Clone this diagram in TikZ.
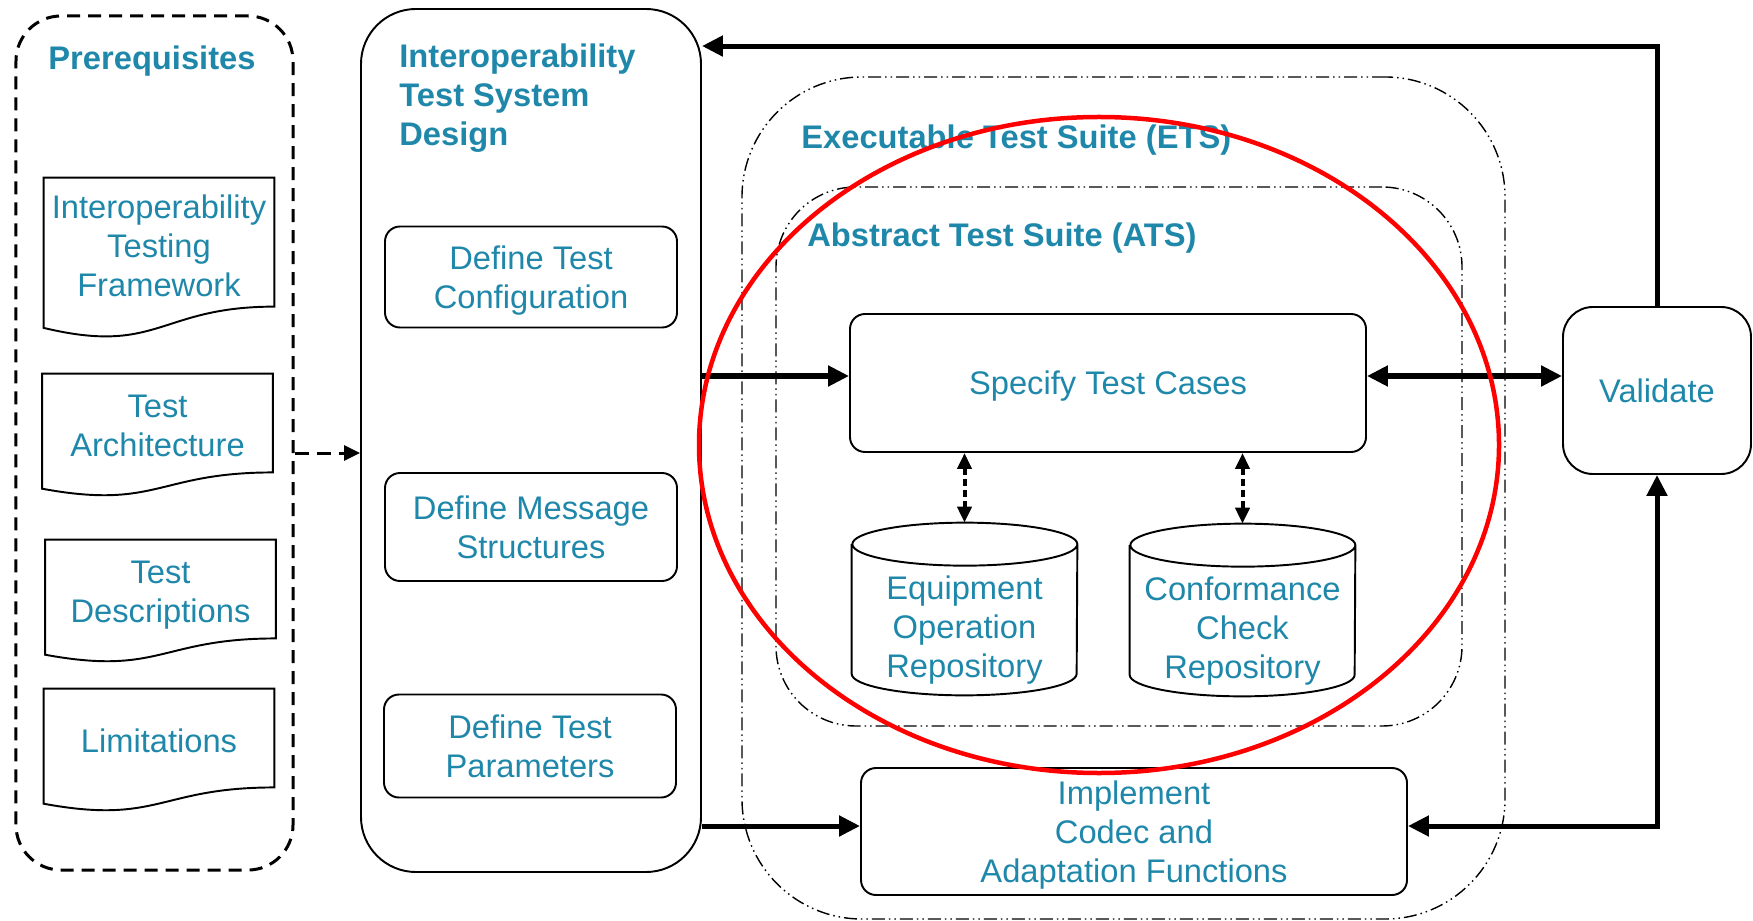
\documentclass[tikz,border=0pt]{standalone}
\usepackage{fontspec}
\setmainfont{Liberation Sans}
\usetikzlibrary{arrows.meta,calc}
\definecolor{tealtext}{RGB}{31,136,170}

\begin{document}
\begin{tikzpicture}[x=0.2mm, y=-0.2mm,
  every node/.style={text=tealtext, font=\fontsize{18.6}{22.2}\selectfont, align=center, inner sep=0pt, text depth=0pt},
  heading/.style={font=\fontsize{18.6}{22.2}\selectfont\bfseries, align=left},
  stepbox/.style={draw=black, line width=1.1pt, rounded corners=0.3cm},
  docbox/.style={minimum width=4.6cm, minimum height=2.08cm},
  drumbox/.style={minimum width=4.5cm, minimum height=2.58cm, text depth={}},
  suitebox/.style={draw=black, line width=0.8pt, dash pattern=on 0.26cm off 0.08cm on 0.03cm off 0.08cm on 0.03cm off 0.08cm},
  bigarrow/.style={line width=0.1cm, >={Triangle[length=0.42cm, width=0.4cm]}},
  dotarrow/.style={line width=0.08cm, dash pattern=on 0.14cm off 0.08cm, >={Triangle[length=0.32cm, width=0.28cm]}},
  dasharrow/.style={line width=0.06cm, dash pattern=on 0.28cm off 0.16cm, >={Triangle[length=0.32cm, width=0.3cm]}}]
\useasboundingbox (0,0) rectangle (1753,921);

% prerequisites column
\node (pre) [draw=black, line width=0.06cm, dash pattern=on 0.26cm off 0.16cm, rounded corners=0.9cm, minimum width=5.54cm, minimum height=17.08cm] at (154.5,443) {};
\node (pretitle) [heading] at (152,58) {Prerequisites};
\node (itf) [docbox, minimum height=2.72cm] at (159,246) {Interoperability\\Testing\\Framework};
\node (tarch) [docbox] at (157.5,426) {Test\\Architecture};
\node (tdesc) [docbox] at (160.5,592) {Test\\Descriptions};
\node (tlim) [docbox] at (159,741) {Limitations};
% document outline with the wavy bottom
\foreach \d in {itf,tarch,tdesc,tlim}
  \draw[line width=1.1pt] (\d.north west) -- (\d.north east) -- ($(\d.south east)!0.0565!(\d.north east)$)
    .. controls ($(\d.south)!0.0565!(\d.north)$) and ($(\d.south)!-0.302!(\d.north)$)
    .. ($(\d.south west)!-0.099!(\d.north west)$) -- cycle;

% test system design column
\node (its) [draw=black, line width=1.1pt, rounded corners=1.1cm, minimum width=6.8cm, minimum height=17.26cm] at (531,440.5) {};
\node (itstitle) [heading, anchor=west] at (399,95) {Interoperability\\Test System\\Design};
\node (dtc) [stepbox, minimum width=5.84cm, minimum height=2.02cm] at (531,277) {Define Test\\Configuration};
\node (dms) [stepbox, minimum width=5.84cm, minimum height=2.16cm] at (531,527) {Define Message\\Structures};
\node (dtp) [stepbox, minimum width=5.84cm, minimum height=2.06cm] at (530,746) {Define Test\\Parameters};

% test suites
\node (ets) [suitebox, rounded corners=2.4cm, minimum width=15.26cm, minimum height=16.84cm] at (1123.5,498) {};
\node (etstitle) [heading, anchor=west] at (801,137) {Executable Test Suite (ETS)};
\node (ats) [suitebox, rounded corners=1.6cm, minimum width=13.72cm, minimum height=10.78cm] at (1119,456.5) {};
\node (atstitle) [heading, anchor=west] at (807,235) {Abstract Test Suite (ATS)};
\node (stc) [stepbox, minimum width=10.32cm, minimum height=2.76cm] at (1108,383) {Specify Test Cases};
\node (eqr) [drumbox] at (964.5,630.5) {Equipment\\Operation\\Repository};
\node (ccr) [drumbox] at (1242.5,631.5) {Conformance\\Check\\Repository};
\foreach \c in {eqr,ccr}
  \draw[line width=1.1pt] ([yshift=0.43cm]\c.north west) -- ([yshift=0.43cm]\c.south west)
    arc[start angle=180, end angle=360, x radius=2.25cm, y radius=0.43cm]
    -- ([yshift=0.43cm]\c.north east)
    arc[start angle=0, end angle=360, x radius=2.25cm, y radius=0.43cm];
\node (impl) [stepbox, minimum width=10.92cm, minimum height=2.54cm] at (1134,831.5) {Implement\\Codec and\\Adaptation Functions};
\node (val) [stepbox, rounded corners=0.6cm, minimum width=3.76cm, minimum height=3.34cm] at (1657,390.5) {Validate};

% connectors
\coordinate (preout) at ([yshift=-0.2cm]pre.east);
\coordinate (itsin) at ([yshift=-0.76cm]its.north east);
\coordinate (stcin) at ([yshift=0.14cm]stc.west);
\coordinate (stcout) at ([yshift=0.14cm]stc.east);
\coordinate (implin) at ([yshift=0.11cm]impl.west);
\coordinate (implout) at ([yshift=0.11cm]impl.east);
\draw[dasharrow, ->] (preout) -- (preout -| its.west);
\draw[bigarrow, ->] (val.north) |- (itsin);
\draw[bigarrow, ->] (stcin -| its.east) -- (stcin);
\draw[bigarrow, <->] (stcout) -- (stcout -| val.west);
\draw[dotarrow, <->] (stc.south -| eqr.north) -- ([yshift=0.86cm]eqr.north);
\draw[dotarrow, <->] (stc.south -| ccr.north) -- ([yshift=0.86cm]ccr.north);
\draw[bigarrow, ->] (implin -| its.east) -- (implin);
\draw[bigarrow, <->] (implout) -| (val.south);

% highlight
\draw[red, line width=0.09cm] (1099,445) ellipse [x radius=8cm, y radius=6.56cm];
\end{tikzpicture}
\end{document}
